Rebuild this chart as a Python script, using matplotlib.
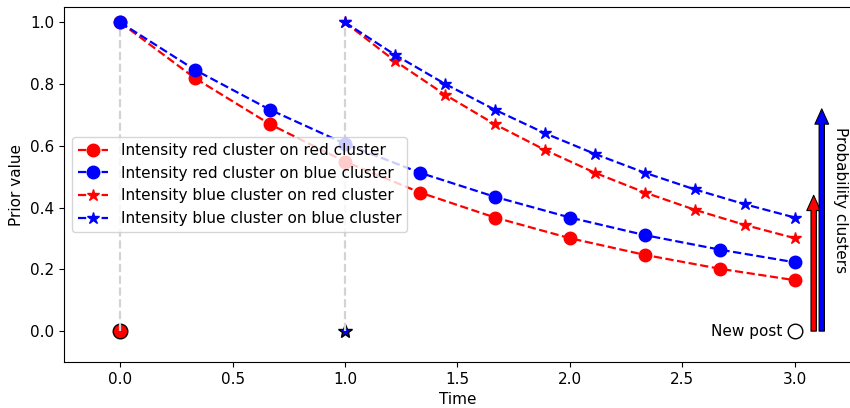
import matplotlib
matplotlib.use("Agg")
import matplotlib.pyplot as plt

# Data
t_red = [0.0, 1/3, 2/3, 1.0, 4/3, 5/3, 2.0, 7/3, 8/3, 3.0]
red_on_red = [1.0, 0.819, 0.670, 0.549, 0.449, 0.368, 0.301, 0.247, 0.202, 0.165]
red_on_blue = [1.0, 0.846, 0.717, 0.607, 0.513, 0.435, 0.368, 0.311, 0.264, 0.223]
t_blue = [1.0, 11/9, 13/9, 15/9, 17/9, 19/9, 21/9, 23/9, 25/9, 3.0]
blue_on_red = [1.0, 0.875, 0.766, 0.670, 0.587, 0.513, 0.449, 0.393, 0.344, 0.301]
blue_on_blue = [1.0, 0.895, 0.801, 0.717, 0.641, 0.574, 0.513, 0.459, 0.411, 0.368]
event_times = [0.0, 1.0]
new_post_time = 3.0
prob_red = 0.44
prob_blue = 0.72

plt.rcParams['font.size'] = 11

fig = plt.figure(figsize=(8.5, 4.08), dpi=100)
ax = fig.add_axes([64/850, 1 - 362/408, 787/850, 355/408])

lw = 1.6
ax.plot([event_times[0]], [0], 'o', color='red', markeredgecolor='black', markersize=10.5, zorder=2)
ax.plot([event_times[1]], [0], '*', color='blue', markeredgecolor='black', markersize=10, zorder=2)
for te in event_times:
    ax.plot([te, te], [0, 1], '--', color='lightgray', linewidth=lw, zorder=2.5)

ax.plot(t_red, red_on_red, 'o--', color='red', markersize=9, linewidth=lw, label='Intensity red cluster on red cluster', zorder=3)
ax.plot(t_red, red_on_blue, 'o--', color='blue', markersize=9, linewidth=lw, label='Intensity red cluster on blue cluster', zorder=3)
ax.plot(t_blue, blue_on_red, '*--', color='red', markersize=9, linewidth=lw, label='Intensity blue cluster on red cluster', zorder=3)
ax.plot(t_blue, blue_on_blue, '*--', color='blue', markersize=9, linewidth=lw, label='Intensity blue cluster on blue cluster', zorder=3)

ax.plot([new_post_time], [0], 'o', markerfacecolor='white', markeredgecolor='black', markersize=10.5, zorder=3)
ax.text(new_post_time - 0.055, 0, 'New post', ha='right', va='center')

ax.annotate('', xy=(3.084, prob_red), xytext=(3.084, 0),
            arrowprops=dict(arrowstyle='simple,head_width=0.9,head_length=1.0,tail_width=0.35',
                            facecolor='red', edgecolor='black', shrinkA=0, shrinkB=0, linewidth=0.8))
ax.annotate('', xy=(3.12, prob_blue), xytext=(3.12, 0),
            arrowprops=dict(arrowstyle='simple,head_width=0.9,head_length=1.0,tail_width=0.35',
                            facecolor='blue', edgecolor='black', shrinkA=0, shrinkB=0, linewidth=0.8))
ax.text(3.203, 0.425, 'Probability clusters', rotation=270, ha='center', va='center')

ax.set_xlim(-0.25, 3.25)
ax.set_ylim(-0.1, 1.05)
ax.set_xticks([0.0, 0.5, 1.0, 1.5, 2.0, 2.5, 3.0])
ax.set_yticks([0.0, 0.2, 0.4, 0.6, 0.8, 1.0])
ax.set_xlabel('Time')
ax.set_ylabel('Prior value')
ax.spines['right'].set_visible(False)
ax.legend(loc='center left')

fig.savefig('out.png', dpi=100)
